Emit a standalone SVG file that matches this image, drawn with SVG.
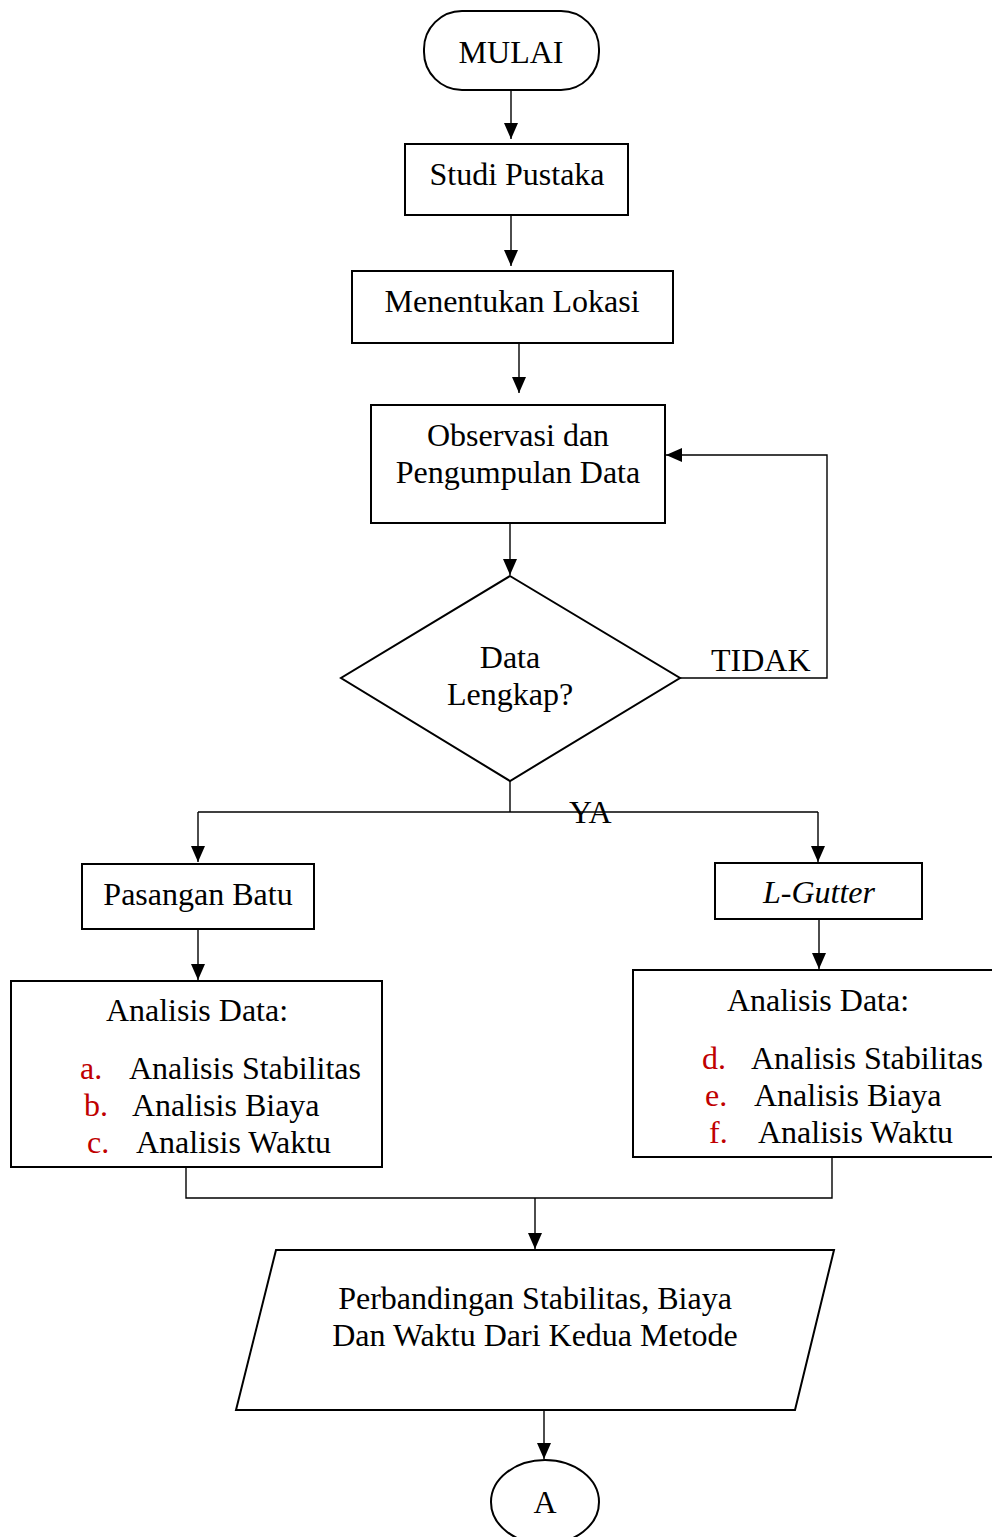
<svg xmlns="http://www.w3.org/2000/svg" width="992" height="1537" viewBox="0 0 992 1537">
<style>
.box{fill:#fff;stroke:#000;stroke-width:2}
.ln{fill:none;stroke:#000;stroke-width:1.4}
text{font-family:"Liberation Serif","Times New Roman",serif;font-size:32px;fill:#000}
.c{text-anchor:middle}
.r{fill:#c00000}
</style>
<defs>
<marker id="ah" markerUnits="userSpaceOnUse" markerWidth="16" markerHeight="16" viewBox="0 0 16 16" refX="16" refY="8" orient="auto">
<path d="M0,1 L16,8 L0,15 Z" fill="#000"/>
</marker>
</defs>
<rect width="992" height="1537" fill="#fff"/>
<g id="connectors">
<line class="ln" x1="511" y1="90" x2="511" y2="139" marker-end="url(#ah)"/>
<line class="ln" x1="511" y1="215" x2="511" y2="266" marker-end="url(#ah)"/>
<line class="ln" x1="519" y1="343" x2="519" y2="393" marker-end="url(#ah)"/>
<line class="ln" x1="510" y1="523" x2="510" y2="575" marker-end="url(#ah)"/>
<polyline class="ln" points="680,678 827,678 827,455 666,455" marker-end="url(#ah)"/>
<polyline class="ln" points="510,781 510,812"/>
<polyline class="ln" points="198,812 818,812"/>
<line class="ln" x1="198" y1="812" x2="198" y2="862" marker-end="url(#ah)"/>
<line class="ln" x1="818" y1="812" x2="818" y2="862" marker-end="url(#ah)"/>
<line class="ln" x1="198" y1="929" x2="198" y2="980" marker-end="url(#ah)"/>
<line class="ln" x1="819" y1="919" x2="819" y2="969" marker-end="url(#ah)"/>
<polyline class="ln" points="186,1167 186,1198 832,1198 832,1157"/>
<line class="ln" x1="535" y1="1198" x2="535" y2="1249" marker-end="url(#ah)"/>
<line class="ln" x1="544" y1="1408" x2="544" y2="1459" marker-end="url(#ah)"/>
<text x="711" y="671">TIDAK</text>
<text x="569" y="823">YA</text>
</g>
<g id="mulai">
<rect class="box" x="424" y="11" width="175" height="79" rx="38" ry="38"/>
<text class="c" x="511" y="63">MULAI</text>
</g>
<g id="studi">
<rect class="box" x="405" y="144" width="223" height="71"/>
<text class="c" x="517" y="185">Studi Pustaka</text>
</g>
<g id="lokasi">
<rect class="box" x="352" y="271" width="321" height="72"/>
<text class="c" x="512" y="312">Menentukan Lokasi</text>
</g>
<g id="observasi">
<rect class="box" x="371" y="405" width="294" height="118"/>
<text class="c" x="518" y="446">Observasi dan</text>
<text class="c" x="518" y="483">Pengumpulan Data</text>
</g>
<g id="decision">
<polygon class="box" points="510,576 680,678 510,781 341,678"/>
<text class="c" x="510" y="668">Data</text>
<text class="c" x="510" y="705">Lengkap?</text>
</g>
<g id="pasangan">
<rect class="box" x="82" y="864" width="232" height="65"/>
<text class="c" x="198" y="905">Pasangan Batu</text>
</g>
<g id="lgutter">
<rect class="box" x="715" y="863" width="207" height="56"/>
<text class="c" x="819" y="903" font-style="italic">L-Gutter</text>
</g>
<g id="analisis-kiri">
<rect class="box" x="11" y="981" width="371" height="186"/>
<text class="c" x="197" y="1021">Analisis Data:</text>
<text class="r" x="80" y="1079">a.</text>
<text x="129" y="1079">Analisis Stabilitas</text>
<text class="r" x="84" y="1116">b.</text>
<text x="132" y="1116">Analisis Biaya</text>
<text class="r" x="87" y="1153">c.</text>
<text x="136" y="1153">Analisis Waktu</text>
</g>
<g id="analisis-kanan">
<rect class="box" x="633" y="970" width="370" height="187"/>
<text class="c" x="818" y="1011">Analisis Data:</text>
<text class="r" x="702" y="1069">d.</text>
<text x="751" y="1069">Analisis Stabilitas</text>
<text class="r" x="705" y="1106">e.</text>
<text x="754" y="1106">Analisis Biaya</text>
<text class="r" x="709" y="1143">f.</text>
<text x="758" y="1143">Analisis Waktu</text>
</g>
<g id="perbandingan">
<polygon class="box" points="276,1250 834,1250 795,1410 236,1410"/>
<text class="c" x="535" y="1309">Perbandingan Stabilitas, Biaya</text>
<text class="c" x="535" y="1346">Dan Waktu Dari Kedua Metode</text>
</g>
<g id="konektor-a">
<ellipse class="box" cx="545" cy="1502" rx="54" ry="42"/>
<text class="c" x="545" y="1513">A</text>
</g>
</svg>
